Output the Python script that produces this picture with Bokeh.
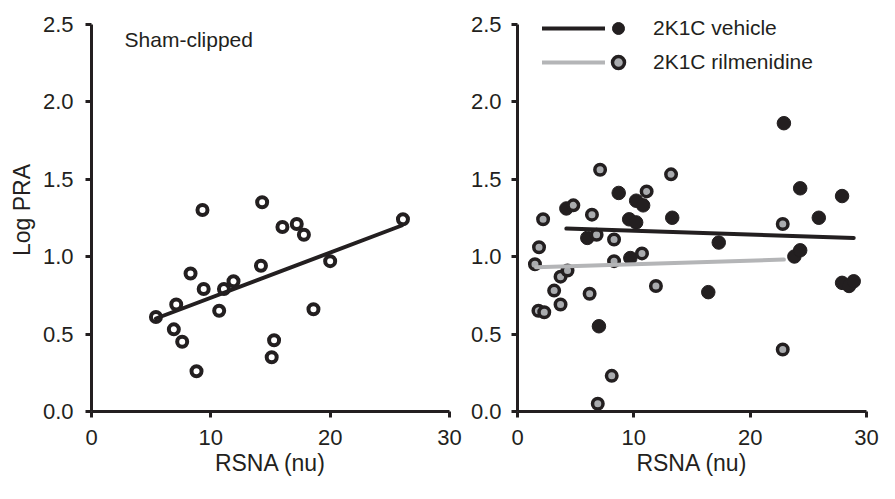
from bokeh.plotting import figure
from bokeh.layouts import row
from bokeh.models import Range1d, FixedTicker, Label, Legend, LegendItem, NumeralTickFormatter
from bokeh.embed import file_html
from bokeh.resources import INLINE

FONT = "Liberation Sans"
INK = "#231f20"
GREY_FILL = "#a9abae"
GREY_LINE = "#b4b5b7"

# ---------------- data ----------------
x_ticks = [0, 10, 20, 30]
y_ticks = [0.0, 0.5, 1.0, 1.5, 2.0, 2.5]

sham_x = [5.4, 7.1, 6.9, 7.6, 8.3, 8.8, 9.3, 9.4, 10.7, 11.1, 11.9, 14.3, 14.2,
          15.1, 15.3, 16.0, 17.2, 17.8, 18.6, 20.0, 26.1]
sham_y = [0.61, 0.69, 0.53, 0.45, 0.89, 0.26, 1.30, 0.79, 0.65, 0.79, 0.84, 1.35, 0.94,
          0.35, 0.46, 1.19, 1.21, 1.14, 0.66, 0.97, 1.24]
sham_fit_x = [5.4, 26.0]
sham_fit_y = [0.60, 1.20]

veh_x = [4.2, 6.0, 7.0, 8.7, 9.6, 10.2, 10.2, 10.8, 9.7, 13.3, 16.4, 17.3, 22.9,
         24.3, 23.8, 24.3, 25.9, 27.9, 27.9, 28.5, 28.9]
veh_y = [1.31, 1.12, 0.55, 1.41, 1.24, 1.22, 1.36, 1.33, 0.99, 1.25, 0.77, 1.09, 1.86,
         1.44, 1.00, 1.04, 1.25, 1.39, 0.83, 0.81, 0.84]
veh_fit_x = [4.2, 28.9]
veh_fit_y = [1.18, 1.12]

ril_x = [1.5, 1.85, 2.2, 1.8, 2.3, 3.15, 3.7, 3.7, 4.3, 4.8, 6.2, 6.4, 6.8, 7.1,
         8.1, 6.9, 8.3, 8.3, 10.7, 11.1, 11.9, 13.2, 22.8, 22.8]
ril_y = [0.95, 1.06, 1.24, 0.65, 0.64, 0.78, 0.69, 0.87, 0.91, 1.33, 0.76, 1.27, 1.14, 1.56,
         0.23, 0.05, 1.11, 0.97, 1.02, 1.42, 0.81, 1.53, 1.21, 0.40]
ril_fit_x = [1.6, 22.9]
ril_fit_y = [0.93, 0.98]

x_label = "RSNA (nu)"
y_label = "Log PRA"
panel_title = "Sham-clipped"
veh_name = "2K1C vehicle"
ril_name = "2K1C rilmenidine"


def make_fig(width, border_left, border_right, ylabel, y_standoff):
    p = figure(width=width, height=483, output_backend="svg", toolbar_location=None,
               x_range=Range1d(0, 30), y_range=Range1d(0, 2.6),
               min_border_left=border_left, min_border_right=border_right,
               min_border_top=8, min_border_bottom=72)
    p.xgrid.visible = False
    p.ygrid.visible = False
    p.outline_line_color = None
    p.background_fill_color = "white"
    p.border_fill_color = "white"
    for ax in (p.xaxis[0], p.yaxis[0]):
        ax.axis_line_width = 3
        ax.axis_line_color = INK
        ax.major_tick_line_width = 3
        ax.major_tick_line_color = INK
        ax.major_tick_out = 6
        ax.major_tick_in = 0
        ax.minor_tick_out = 0
        ax.minor_tick_in = 0
        ax.major_label_text_font = FONT
        ax.major_label_text_font_size = "22px"
        ax.major_label_text_color = INK
        ax.axis_label_text_font = FONT
        ax.axis_label_text_font_size = "23px"
        ax.axis_label_text_font_style = "normal"
        ax.axis_label_text_color = INK
    p.xaxis.ticker = FixedTicker(ticks=x_ticks)
    p.yaxis.ticker = FixedTicker(ticks=y_ticks)
    p.yaxis.bounds = (y_ticks[0], y_ticks[-1])
    p.yaxis.formatter = NumeralTickFormatter(format="0.0")
    p.xaxis.axis_label = x_label
    p.xaxis.major_label_standoff = 12
    p.xaxis.axis_label_standoff = 2
    p.yaxis.major_label_standoff = y_standoff
    if ylabel:
        p.yaxis.axis_label = ylabel
        p.yaxis.axis_label_standoff = 5
    return p


# ---------------- left panel ----------------
p1 = make_fig(463, 91, 14, y_label, 12)
p1.scatter(sham_x, sham_y, size=10, fill_color="white", line_color=INK, line_width=4)
p1.line(sham_fit_x, sham_fit_y, line_width=4, line_color=INK, line_cap="round")
p1.add_layout(Label(x=2.77, y=2.40, text=panel_title, text_font=FONT, text_font_size="21px",
                    text_color=INK, text_baseline="alphabetic"))

# ---------------- right panel ----------------
p2 = make_fig(416, 54, 13, None, 10)
r_veh = p2.scatter(veh_x, veh_y, size=13.5, fill_color=INK, line_color=INK, line_width=1)
r_ril = p2.scatter(ril_x, ril_y, size=10.5, fill_color=GREY_FILL, line_color=INK, line_width=3.5)
l_veh = p2.line(veh_fit_x, veh_fit_y, line_width=4, line_color=INK, line_cap="round")
l_ril = p2.line(ril_fit_x, ril_fit_y, line_width=4, line_color=GREY_LINE, line_cap="round")

legend_lines = Legend(items=[LegendItem(label=" ", renderers=[l_veh]),
                             LegendItem(label=" ", renderers=[l_ril])],
                      location=(25, 332), glyph_width=63, glyph_height=34, label_height=34,
                      label_width=0, label_standoff=0, label_text_font_size="1px",
                      spacing=0, padding=0, margin=0,
                      background_fill_alpha=0, border_line_alpha=0)
legend_marks = Legend(items=[LegendItem(label=veh_name, renderers=[r_veh]),
                             LegendItem(label=ril_name, renderers=[r_ril])],
                      location=(86, 332), glyph_width=30, glyph_height=34, label_height=34,
                      label_standoff=20, label_text_font=FONT, label_text_font_size="21px",
                      label_text_color=INK, spacing=0, padding=0, margin=0,
                      background_fill_alpha=0, border_line_alpha=0)
p2.add_layout(legend_lines)
p2.add_layout(legend_marks)

layout = row(p1, p2)
open("out.html", "w").write(file_html(layout, INLINE))
